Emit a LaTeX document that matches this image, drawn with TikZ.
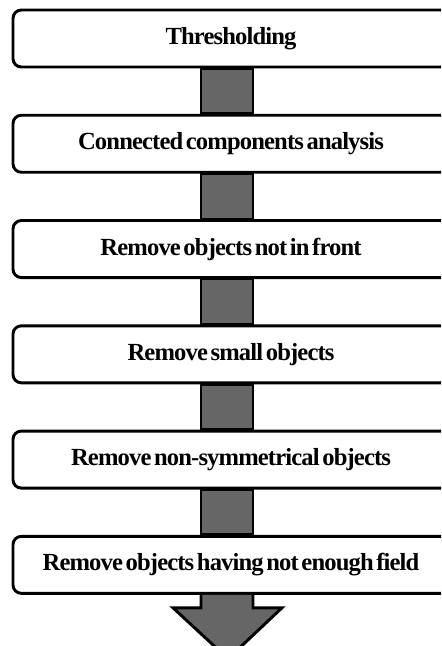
\documentclass[tikz,border=0pt]{standalone}
\usepackage{fontspec}
\setmainfont{Liberation Serif}[WordSpace=0.5,LetterSpace=-3.5]
\usetikzlibrary{positioning}
\definecolor{shaft}{HTML}{666666}

\begin{document}
\begin{tikzpicture}[x=0.03cm,y=-0.03cm,node distance=1.36cm]
            \tikzstyle{stage}=[rectangle,draw,rounded corners=0.25cm,line width=2.5pt,fill=white,
              minimum width=13.08cm,minimum height=1.71cm,font=\fontsize{21}{24}\selectfont\bfseries]
            \tikzstyle{link}=[draw,line width=2.5pt,fill=shaft]

            \clip (0,0) rectangle (441,646);
            \coordinate (axis) at (227,0);

            \node [stage] (s1) at (231,38.5) {Thresholding};
            \node [stage,below=of s1] (s2) {Connected components analysis};
            \node [stage,below=of s2] (s3) {Remove objects not in front};
            \node [stage,below=of s3] (s4) {Remove small objects};
            \node [stage,below=of s4] (s5) {Remove non-symmetrical objects};
            \node [stage,below=of s5] (s6) {Remove objects having not enough field};

            \foreach \a/\b in {s1/s2,s2/s3,s3/s4,s4/s5,s5/s6}
              \draw [link] ([xshift=-0.78cm]\a.south -| axis) rectangle ([xshift=0.78cm]\b.north -| axis);

            \draw [link] ([xshift=-0.78cm]s6.south -| axis) -- ++(0,13) -- ++(-28,0) -- ++(55,51)
              -- ++(54,-51) -- ++(-29,0) -- ++(0,-13);
        \end{tikzpicture}
\end{document}
